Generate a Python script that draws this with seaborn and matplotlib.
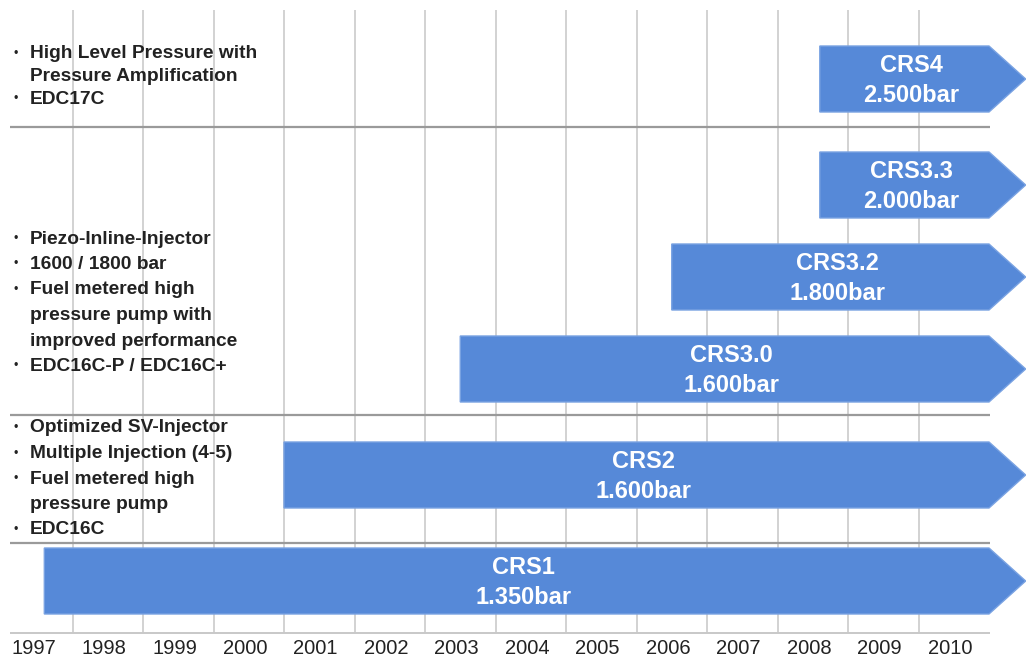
import seaborn as sns
import matplotlib.pyplot as plt
from matplotlib.patches import Polygon

# timeline data
years = list(range(1997, 2011))
systems = ["CRS1", "CRS2", "CRS3.0", "CRS3.2", "CRS3.3", "CRS4"]
pressures = ["1.350bar", "1.600bar", "1.600bar", "1.800bar", "2.000bar", "2.500bar"]
start_year = [1997.6, 2001.0, 2003.5, 2006.5, 2008.6, 2008.6]
end_year = [2011.0, 2011.0, 2011.0, 2011.0, 2011.0, 2011.0]
group = [0, 1, 2, 2, 2, 3]

features_crs4 = ["High Level Pressure with\nPressure Amplification", "EDC17C"]
features_crs3 = ["Piezo-Inline-Injector", "1600 / 1800 bar",
                 "Fuel metered high\npressure pump with\nimproved performance",
                 "EDC16C-P / EDC16C+"]
features_crs2 = ["Optimized SV-Injector", "Multiple Injection (4-5)",
                 "Fuel metered high\npressure pump", "EDC16C"]

sns.set_theme(style="white")
plt.rcParams["font.family"] = ["Liberation Sans", "DejaVu Sans"]

W, H = 1026, 662
fig = plt.figure(figsize=(W / 100, H / 100), dpi=100)
ax = fig.add_axes([0, 0, 1, 1])
px_per_year = 70.5
x0 = 1997 - 2 / px_per_year
ax.set_xlim(x0, x0 + W / px_per_year)
ax.set_ylim(H, 0)
ax.axis("off")


def px2x(px):
    return x0 + px / px_per_year


blue = "#5689d8"

# grid
ax.vlines(years[1:], 10, 633, color="#d2d2d2", lw=1.4, zorder=0)
ax.hlines([127, 415, 543], px2x(10), px2x(990), color="#9a9a9a", lw=1.6, zorder=1)
ax.hlines(633, px2x(10), px2x(990), color="#c8c8c8", lw=1.4, zorder=1)

for y in years:
    ax.text(y + 0.45, 649, str(y), ha="center", va="center", fontsize=14.5,
            family=["Liberation Sans Narrow", "Liberation Sans"], color="#222222")

# arrows
half_h = 33
tip = 0.52
for i, name in enumerate(systems):
    cy = 581 - 92 * i - 14 * group[i]
    s, e = start_year[i], end_year[i]
    pts = [(s, cy - half_h), (e, cy - half_h), (e + tip, cy), (e, cy + half_h), (s, cy + half_h)]
    ax.add_patch(Polygon(pts, closed=True, facecolor=blue, edgecolor="#79a2e2", lw=1, zorder=2))
    xc = (s + e) / 2 + 0.1
    ax.text(xc, cy - 14, name, ha="center", va="center", color="white",
            fontsize=17, fontweight="bold", zorder=3)
    ax.text(xc, cy + 17, pressures[i], ha="center", va="center", color="white",
            fontsize=17, fontweight="bold", zorder=3)


def feature_block(items, top, step=25.5):
    y = top
    for item in items:
        lines = item.split("\n")
        ax.text(px2x(14), y, "\u2022", ha="left", va="center", fontsize=9,
                color="#222222")
        for line in lines:
            ax.text(px2x(30), y, line, ha="left", va="center", fontsize=13.8,
                    fontweight="bold", color="#222222")
            y += step


feature_block(features_crs4, 54, step=22.5)
feature_block(features_crs3, 239)
feature_block(features_crs2, 428)

fig.savefig("out.png", dpi=100, facecolor="white")
